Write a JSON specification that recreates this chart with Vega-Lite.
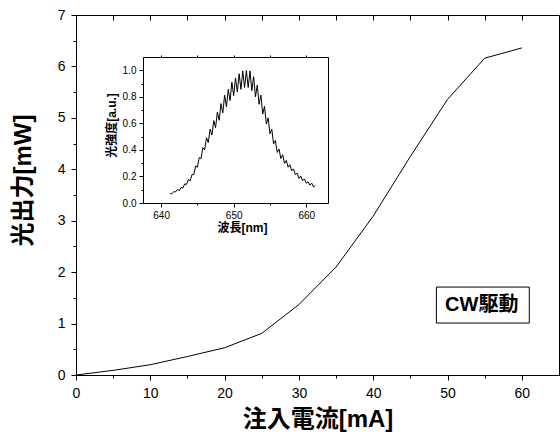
{
  "$schema": "https://vega.github.io/schema/vega-lite/v6.json",
  "width": 483,
  "height": 360,
  "autosize": "none",
  "padding": {"left": 76, "top": 15, "right": 1, "bottom": 60},
  "datasets": {
    "main": [
      {"I": 0, "P": 0}, {"I": 5, "P": 0.09}, {"I": 10, "P": 0.2}, {"I": 15, "P": 0.36},
      {"I": 20, "P": 0.53}, {"I": 25, "P": 0.81}, {"I": 30, "P": 1.37}, {"I": 35, "P": 2.1},
      {"I": 40, "P": 3.09}, {"I": 45, "P": 4.25}, {"I": 50, "P": 5.36}, {"I": 55, "P": 6.16},
      {"I": 60, "P": 6.36}
    ],
    "spec": [
      {"w": 641.25, "v": 0.070}, {"w": 641.5, "v": 0.070}, {"w": 641.75, "v": 0.086}, {"w": 642.0, "v": 0.084},
      {"w": 642.25, "v": 0.102}, {"w": 642.5, "v": 0.093}, {"w": 642.75, "v": 0.118}, {"w": 643.0, "v": 0.112},
      {"w": 643.25, "v": 0.144}, {"w": 643.5, "v": 0.140}, {"w": 643.75, "v": 0.177}, {"w": 644.0, "v": 0.167},
      {"w": 644.25, "v": 0.214}, {"w": 644.5, "v": 0.214}, {"w": 644.75, "v": 0.278}, {"w": 645.0, "v": 0.270},
      {"w": 645.25, "v": 0.342}, {"w": 645.5, "v": 0.335}, {"w": 645.75, "v": 0.417}, {"w": 646.0, "v": 0.400},
      {"w": 646.25, "v": 0.492}, {"w": 646.5, "v": 0.456}, {"w": 646.75, "v": 0.556}, {"w": 647.0, "v": 0.512},
      {"w": 647.25, "v": 0.621}, {"w": 647.5, "v": 0.567}, {"w": 647.75, "v": 0.685}, {"w": 648.0, "v": 0.623},
      {"w": 648.25, "v": 0.749}, {"w": 648.5, "v": 0.679}, {"w": 648.75, "v": 0.813}, {"w": 649.0, "v": 0.725},
      {"w": 649.25, "v": 0.856}, {"w": 649.5, "v": 0.772}, {"w": 649.75, "v": 0.910}, {"w": 650.0, "v": 0.809},
      {"w": 650.25, "v": 0.942}, {"w": 650.5, "v": 0.837}, {"w": 650.75, "v": 0.974}, {"w": 651.0, "v": 0.856},
      {"w": 651.25, "v": 0.995}, {"w": 651.5, "v": 0.870}, {"w": 651.75, "v": 0.998}, {"w": 652.0, "v": 0.870},
      {"w": 652.25, "v": 0.995}, {"w": 652.5, "v": 0.846}, {"w": 652.75, "v": 0.952}, {"w": 653.0, "v": 0.800},
      {"w": 653.25, "v": 0.888}, {"w": 653.5, "v": 0.744}, {"w": 653.75, "v": 0.813}, {"w": 654.0, "v": 0.670},
      {"w": 654.25, "v": 0.728}, {"w": 654.5, "v": 0.595}, {"w": 654.75, "v": 0.642}, {"w": 655.0, "v": 0.521},
      {"w": 655.25, "v": 0.556}, {"w": 655.5, "v": 0.446}, {"w": 655.75, "v": 0.471}, {"w": 656.0, "v": 0.381},
      {"w": 656.25, "v": 0.407}, {"w": 656.5, "v": 0.335}, {"w": 656.75, "v": 0.364}, {"w": 657.0, "v": 0.298},
      {"w": 657.25, "v": 0.321}, {"w": 657.5, "v": 0.270}, {"w": 657.75, "v": 0.289}, {"w": 658.0, "v": 0.242},
      {"w": 658.25, "v": 0.257}, {"w": 658.5, "v": 0.214}, {"w": 658.75, "v": 0.225}, {"w": 659.0, "v": 0.186},
      {"w": 659.25, "v": 0.203}, {"w": 659.5, "v": 0.168}, {"w": 659.75, "v": 0.182}, {"w": 660.0, "v": 0.149},
      {"w": 660.25, "v": 0.160}, {"w": 660.5, "v": 0.135}, {"w": 660.75, "v": 0.150}, {"w": 661.0, "v": 0.121},
      {"w": 661.25, "v": 0.130}
    ],
    "label": [
      {"x1": 48.5, "x2": 61.0, "y1": 1.01, "y2": 1.71, "xt": 54.6, "yt": 1.36, "text": "CW駆動"}
    ]
  },
  "layer": [
    {
      "data": {"name": "main"},
      "mark": {"type": "line", "color": "black", "strokeWidth": 1},
      "encoding": {
        "x": {"field": "I", "type": "quantitative", "scale": {"domain": [0, 65], "nice": false},
          "axis": {"orient": "bottom", "values": [0, 10, 20, 30, 40, 50, 60], "tickSize": 5, "labelPadding": 6,
            "labelFontSize": 14, "labelFont": "Liberation Sans", "labelFlush": false, "labelOverlap": false,
            "title": "注入電流[mA]", "titleFontSize": 24, "titleFont": "Liberation Sans, Noto Sans CJK JP", "titleFontWeight": "bold", "titlePadding": 7}},
        "y": {"field": "P", "type": "quantitative", "scale": {"domain": [0, 7], "nice": false},
          "axis": {"orient": "left", "values": [0, 1, 2, 3, 4, 5, 6, 7], "tickSize": 5, "labelPadding": 6,
            "labelFontSize": 14, "labelFont": "Liberation Sans", "labelFlush": false, "labelOverlap": false,
            "title": "光出力[mW]", "titleFontSize": 24, "titleFont": "Liberation Sans, Noto Sans CJK JP", "titleFontWeight": "bold", "titlePadding": 22, "titleY": 165}}
      }
    },
    {
      "data": {"name": "main"},
      "mark": {"type": "line", "opacity": 0},
      "encoding": {
        "x": {"field": "I", "type": "quantitative", "scale": {"domain": [0, 65], "nice": false},
          "axis": {"orient": "bottom", "values": [5, 15, 25, 35, 45, 55], "tickSize": 3, "labels": false, "domain": false, "title": null}},
        "y": {"field": "P", "type": "quantitative", "scale": {"domain": [0, 7], "nice": false},
          "axis": {"orient": "left", "values": [0.5, 1.5, 2.5, 3.5, 4.5, 5.5, 6.5], "tickSize": 3, "labels": false, "domain": false, "title": null}}
      }
    },
    {
      "data": {"name": "main"},
      "mark": {"type": "line", "opacity": 0},
      "encoding": {
        "x": {"field": "I", "type": "quantitative", "scale": {"domain": [0, 65], "nice": false},
          "axis": {"orient": "top", "values": [5, 10, 15, 20, 25, 30, 35, 40, 45, 50, 55, 60], "tickSize": -5, "labels": false, "domain": false, "title": null}},
        "y": {"field": "P", "type": "quantitative", "scale": {"domain": [0, 7], "nice": false}, "axis": null}
      }
    },
    {
      "data": {"name": "label"},
      "mark": {"type": "rect", "fill": "white", "stroke": "black", "strokeWidth": 1},
      "encoding": {
        "x": {"field": "x1", "type": "quantitative", "scale": {"domain": [0, 65], "nice": false}, "axis": null},
        "x2": {"field": "x2"},
        "y": {"field": "y1", "type": "quantitative", "scale": {"domain": [0, 7], "nice": false}, "axis": null},
        "y2": {"field": "y2"}
      }
    },
    {
      "data": {"name": "label"},
      "mark": {"type": "text", "fontSize": 20, "fontWeight": "bold", "font": "Liberation Sans, Noto Sans CJK JP", "color": "black", "align": "center", "baseline": "middle"},
      "encoding": {
        "x": {"field": "xt", "type": "quantitative", "scale": {"domain": [0, 65], "nice": false}, "axis": null},
        "y": {"field": "yt", "type": "quantitative", "scale": {"domain": [0, 7], "nice": false}, "axis": null},
        "text": {"field": "text"}
      }
    },
    {
      "data": {"name": "spec"},
      "mark": {"type": "line", "color": "black", "strokeWidth": 1},
      "encoding": {
        "x": {"field": "w", "type": "quantitative", "scale": {"domain": [637.5, 663], "range": [67, 252], "nice": false, "zero": false},
          "axis": {"orient": "bottom", "offset": -172, "values": [640, 650, 660], "tickSize": 4, "labelPadding": 3,
            "labelFontSize": 10, "labelFont": "Liberation Sans", "labelFlush": false, "labelOverlap": false,
            "title": "波長[nm]", "titleFontSize": 12, "titleFont": "Liberation Sans, Noto Sans CJK JP", "titleFontWeight": "bold", "titlePadding": 2, "titleX": 166}},
        "y": {"field": "v", "type": "quantitative", "scale": {"domain": [0, 1.1], "range": [188, 42], "nice": false},
          "axis": {"orient": "left", "offset": -67, "values": [0, 0.2, 0.4, 0.6, 0.8, 1.0], "format": ".1f", "tickSize": 4, "labelPadding": 3,
            "labelFontSize": 10, "labelFont": "Liberation Sans", "labelFlush": false, "labelOverlap": false,
            "title": "光強度[a.u.]", "titleFontSize": 12, "titleFont": "Liberation Sans, Noto Sans CJK JP", "titleFontWeight": "bold", "titlePadding": 4, "titleY": 110}}
      }
    },
    {
      "data": {"name": "spec"},
      "mark": {"type": "line", "opacity": 0},
      "encoding": {
        "x": {"field": "w", "type": "quantitative", "scale": {"domain": [637.5, 663], "range": [67, 252], "nice": false, "zero": false},
          "axis": {"orient": "bottom", "offset": -172, "values": [645, 655], "tickSize": 2, "labels": false, "domain": false, "title": null}},
        "y": {"field": "v", "type": "quantitative", "scale": {"domain": [0, 1.1], "range": [188, 42], "nice": false},
          "axis": {"orient": "left", "offset": -67, "values": [0.1, 0.3, 0.5, 0.7, 0.9], "tickSize": 2, "labels": false, "domain": false, "title": null}}
      }
    },
    {
      "data": {"name": "spec"},
      "mark": {"type": "line", "opacity": 0},
      "encoding": {
        "x": {"field": "w", "type": "quantitative", "scale": {"domain": [637.5, 663], "range": [67, 252], "nice": false, "zero": false},
          "axis": {"orient": "top", "offset": -42, "values": [640, 645, 650, 655, 660], "tickSize": 2, "labels": false, "title": null}},
        "y": {"field": "v", "type": "quantitative", "scale": {"domain": [0, 1.1], "range": [188, 42], "nice": false},
          "axis": {"orient": "right", "offset": -231, "ticks": false, "labels": false, "title": null}}
      }
    }
  ],
  "resolve": {
    "scale": {"x": "independent", "y": "independent"},
    "axis": {"x": "independent", "y": "independent"}
  },
  "config": {
    "view": {"stroke": "black", "strokeWidth": 1},
    "axis": {"grid": false, "domainColor": "black", "tickColor": "black", "labelColor": "black", "titleColor": "black", "domainWidth": 1, "tickWidth": 1}
  }
}
